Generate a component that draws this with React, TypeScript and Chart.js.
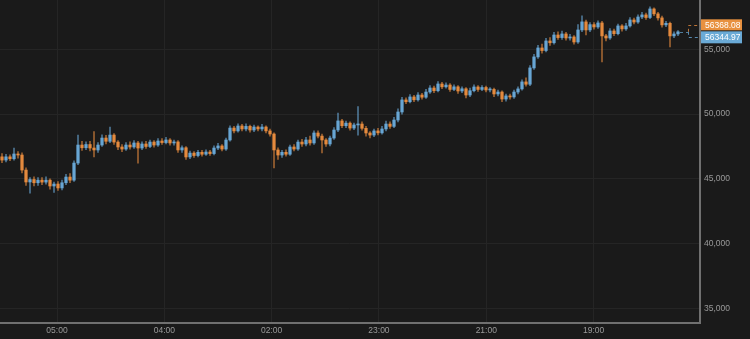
import React, { useEffect, useRef } from 'react';
import { Chart, registerables } from 'chart.js';

Chart.register(...registerables);

const openPrices = [
  46700,46450,46700,46550,46920,46840,45680,44760,44950,44700,
  44900,44750,44900,44450,44600,44300,44700,45140,44900,46220,
  47610,47400,47650,47380,47230,47610,48150,47900,48380,47840,
  47460,47300,47610,47460,47770,47380,47690,47500,47840,47610,
  47920,47800,48000,47770,47850,47230,47400,46690,46990,46800,
  47050,46900,47070,46950,47380,47540,47300,48000,48920,48700,
  49080,48850,49050,48770,49000,48850,49000,48700,48460,47230,
  46840,47050,46900,47460,47300,47840,47690,48000,47770,48540,
  48300,48000,47690,48150,48770,49470,49100,49300,48920,49160,
  49230,48900,48540,48380,48700,48550,48850,49230,49050,49540,
  50160,51090,50950,51320,51100,51470,51300,51700,52010,51800,
  52320,52100,52240,51900,52100,51780,51950,51470,51800,52090,
  51900,52050,51860,51900,51550,51700,51160,51400,51320,51700,
  51940,52480,52300,53560,54410,55100,54900,55640,55500,56100,
  55900,56180,55870,55950,55560,56490,57110,56490,56900,56720,
  57030,56030,55870,56410,56200,56800,56570,56800,57260,57100,
  57490,57650,57450,58110,57730,57420,56880,57000,56030,56180,
];

const closePrices = [
  46450,46700,46550,46920,46840,45680,44760,44950,44700,44900,
  44750,44900,44450,44600,44300,44700,45140,44900,46220,47610,
  47400,47650,47380,47230,47610,48150,47900,48380,47840,47460,
  47300,47610,47460,47770,47380,47690,47500,47840,47610,47920,
  47800,48000,47770,47850,47230,47400,46690,46990,46800,47050,
  46900,47070,46950,47380,47540,47300,48000,48920,48700,49080,
  48850,49050,48770,49000,48850,49000,48700,48460,47230,46840,
  47050,46900,47460,47300,47840,47690,48000,47770,48540,48300,
  48000,47690,48150,48770,49470,49100,49300,48920,49160,49230,
  48900,48540,48380,48700,48550,48850,49230,49050,49540,50160,
  51090,50950,51320,51100,51470,51300,51700,52010,51800,52320,
  52100,52240,51900,52100,51780,51950,51470,51800,52090,51900,
  52050,51860,51900,51550,51700,51160,51400,51320,51700,51940,
  52480,52300,53560,54410,55100,54900,55640,55500,56100,55900,
  56180,55870,55950,55560,56490,57110,56490,56900,56720,57030,
  56030,55870,56410,56200,56800,56570,56800,57260,57100,57490,
  57650,57450,58110,57730,57420,56880,57000,56030,56180,56344.97,
];

const highPrices = [
  46950,46900,46850,47380,47100,47000,45850,45100,45150,45100,
  45100,45150,45000,44750,44800,44900,45350,45400,46400,48380,
  47900,47850,47900,48640,47800,48400,48350,49000,48500,47950,
  47650,47800,47850,47950,47900,47850,47900,48000,47950,48100,
  48100,48200,48100,48000,47950,47550,47500,47150,47100,47200,
  47200,47250,47200,47550,47750,47650,48150,49100,49050,49250,
  49200,49250,49150,49150,49100,49200,49100,48850,48550,47400,
  47200,47250,47600,47650,48000,48050,48200,48300,48700,48700,
  48450,48100,48300,48950,50080,49600,49450,49400,49300,50570,
  49400,49050,48650,48850,48900,49050,49450,49400,49750,50400,
  51300,51250,51500,51450,51650,51600,51900,52200,52150,52500,
  52450,52400,52350,52250,52200,52100,52050,52000,52250,52200,
  52200,52150,52050,52000,51850,51800,51550,51550,51850,52100,
  52650,52800,53750,54600,55300,55400,55850,55900,56300,56350,
  56400,56300,56150,56050,56900,57570,57250,57050,57050,57200,
  57150,56150,56600,56550,56950,56900,57000,57450,57400,57650,
  57850,57800,58270,58200,57850,57550,57150,57100,56350,56450,
];

const lowPrices = [
  46250,46300,46400,46450,46600,45450,44500,43900,44450,44500,
  44550,44600,44200,43950,44100,44150,44550,44700,44800,46100,
  47200,47250,47150,46690,47050,47500,47700,47800,47650,47250,
  47100,47200,47300,47350,46220,47250,47350,47400,47450,47500,
  47650,47700,47600,47600,47050,47050,46500,46550,46650,46700,
  46750,46800,46800,46850,47250,47150,47200,47900,48550,48600,
  48700,48700,48600,48650,48700,48700,48550,48300,45840,46500,
  46650,46750,46800,47150,47200,47500,47550,47600,47650,48150,
  47000,47500,47550,48050,48650,48950,48950,48750,48800,48380,
  48750,48300,48150,48250,48400,48450,48700,48900,48950,49400,
  50000,50800,50850,50950,51000,51150,51200,51600,51650,51700,
  51950,52000,51750,51800,51600,51650,51250,51350,51700,51750,
  51800,51700,51700,51350,51400,50950,51000,51150,51200,51550,
  51850,52150,52200,53450,54300,54700,54800,55300,55400,55750,
  55750,55700,55700,55400,55450,56350,56100,56350,56550,56600,
  54020,55650,55750,56050,56100,56400,56450,56700,56950,57000,
  57350,57300,57350,57600,57250,56700,56750,55180,55900,56050,
];

const timeLabels = ['05:00', '04:00', '02:00', '23:00', '21:00', '19:00'];
const timeLabelIndex = [13.75, 40.58, 67.41, 94.24, 121.07, 147.9];
const priceTicks = [35000, 40000, 45000, 50000, 55000];
const markerPrices = [56368.08, 56344.97];

const UP = 'rgb(104,166,212)';
const DOWN = 'rgb(228,138,62)';
const UP_WICK = 'rgba(104,166,212,0.65)';
const DOWN_WICK = 'rgba(228,138,62,0.65)';
const FONT = "'Helvetica Neue', 'Liberation Sans', Arial, sans-serif";

const bgPlugin = {
  id: 'bg',
  beforeDraw(chart: any) {
    const { ctx, width, height } = chart;
    ctx.save();
    ctx.fillStyle = '#1a1a1a';
    ctx.fillRect(0, 0, width, height);
    ctx.restore();
  },
};

const markerPlugin = {
  id: 'markers',
  afterDraw(chart: any) {
    const { ctx, chartArea } = chart;
    const x = chart.scales.x;
    const y = chart.scales.y;
    const last = closePrices.length - 1;
    const yp = y.getPixelForValue(markerPrices[1]);
    const xl = x.getPixelForValue(last) + 2;
    const xm = x.getPixelForValue(last + 2.5);
    const right = chartArea.right;
    const yo = yp - 7;
    const yb = yp + 5.5;
    ctx.save();
    ctx.lineWidth = 1;
    ctx.setLineDash([3, 3]);
    ctx.strokeStyle = 'rgba(104,166,212,0.7)';
    ctx.beginPath();
    ctx.moveTo(xl, Math.round(yp) + 0.5);
    ctx.lineTo(xm, Math.round(yp) + 0.5);
    ctx.stroke();
    ctx.strokeStyle = 'rgba(228,138,62,0.8)';
    ctx.beginPath();
    ctx.moveTo(Math.round(xm) + 0.5, yp);
    ctx.lineTo(Math.round(xm) + 0.5, Math.round(yo) + 0.5);
    ctx.lineTo(right, Math.round(yo) + 0.5);
    ctx.stroke();
    ctx.strokeStyle = 'rgba(104,166,212,0.8)';
    ctx.beginPath();
    ctx.moveTo(Math.round(xm) + 0.5, yp);
    ctx.lineTo(Math.round(xm) + 0.5, Math.round(yb) + 0.5);
    ctx.lineTo(right, Math.round(yb) + 0.5);
    ctx.stroke();
    ctx.setLineDash([]);
    const bx = right + 1;
    const bw = 41;
    ctx.fillStyle = 'rgb(232,145,64)';
    ctx.fillRect(bx, yo - 5.5, bw, 11);
    ctx.fillStyle = 'rgb(106,170,214)';
    ctx.fillRect(bx, yb - 6, bw, 12);
    ctx.fillStyle = '#ffffff';
    ctx.font = `8.5px ${FONT}`;
    ctx.textBaseline = 'middle';
    ctx.textAlign = 'left';
    ctx.fillText(markerPrices[0].toFixed(2), bx + 4, yo + 0.5);
    ctx.fillText(markerPrices[1].toFixed(2), bx + 4, yb + 0.5);
    ctx.restore();
  },
};

export default function App() {
  const ref = useRef<HTMLCanvasElement | null>(null);

  useEffect(() => {
    if (!ref.current) return;
    const idx = closePrices.map((_, i) => i);
    const up = idx.map((i) => closePrices[i] >= openPrices[i]);
    const chart = new Chart(ref.current, {
      type: 'bar',
      data: {
        datasets: [
          {
            label: 'wick',
            data: idx.map((i) => ({ x: i, y: [lowPrices[i], highPrices[i]] })) as any,
            backgroundColor: up.map((u) => (u ? UP_WICK : DOWN_WICK)),
            barThickness: 1,
            grouped: false,
            order: 2,
          } as any,
          {
            label: 'body',
            data: idx.map((i) => ({ x: i, y: [openPrices[i], closePrices[i]] })) as any,
            backgroundColor: up.map((u) => (u ? UP : DOWN)),
            barThickness: 2.6,
            minBarLength: 1,
            grouped: false,
            order: 1,
          } as any,
        ],
      },
      options: {
        animation: false,
        responsive: true,
        maintainAspectRatio: false,
        layout: { padding: 0 },
        plugins: { legend: { display: false }, tooltip: { enabled: false } },
        scales: {
          x: {
            type: 'linear',
            min: -0.5,
            max: 174.5,
            offset: false,
            grid: { color: '#252525', offset: false, drawTicks: false, lineWidth: 1 },
            border: { display: true, color: '#707070', width: 2 },
            afterBuildTicks: (scale: any) => {
              scale.ticks = timeLabelIndex.map((v) => ({ value: v }));
            },
            afterFit: (scale: any) => {
              scale.height = 16;
              scale.paddingLeft = 0;
              scale.paddingRight = 0;
            },
            ticks: {
              autoSkip: false,
              maxRotation: 0,
              padding: 3,
              color: '#9a9a9a',
              font: { size: 8.5, family: FONT },
              callback: (_v: any, i: number) => timeLabels[i],
            },
          } as any,
          y: {
            type: 'linear',
            position: 'right',
            min: 33880,
            max: 58800,
            grid: { color: '#252525', drawTicks: false, lineWidth: 1 },
            border: { display: true, color: '#707070', width: 2 },
            afterBuildTicks: (scale: any) => {
              scale.ticks = priceTicks.map((v) => ({ value: v }));
            },
            afterFit: (scale: any) => {
              scale.width = 50;
              scale.paddingTop = 0;
              scale.paddingBottom = 0;
            },
            ticks: {
              padding: 4,
              color: '#9a9a9a',
              font: { size: 8.5, family: FONT },
              callback: (v: any) => Number(v).toLocaleString('en-US'),
            },
          } as any,
        },
      },
      plugins: [bgPlugin, markerPlugin],
    });
    return () => chart.destroy();
  }, []);

  return (
    <div style={{ position: 'fixed', left: 0, top: 0, width: 750, height: 339, background: '#1a1a1a' }}>
      <canvas ref={ref} />
    </div>
  );
}
